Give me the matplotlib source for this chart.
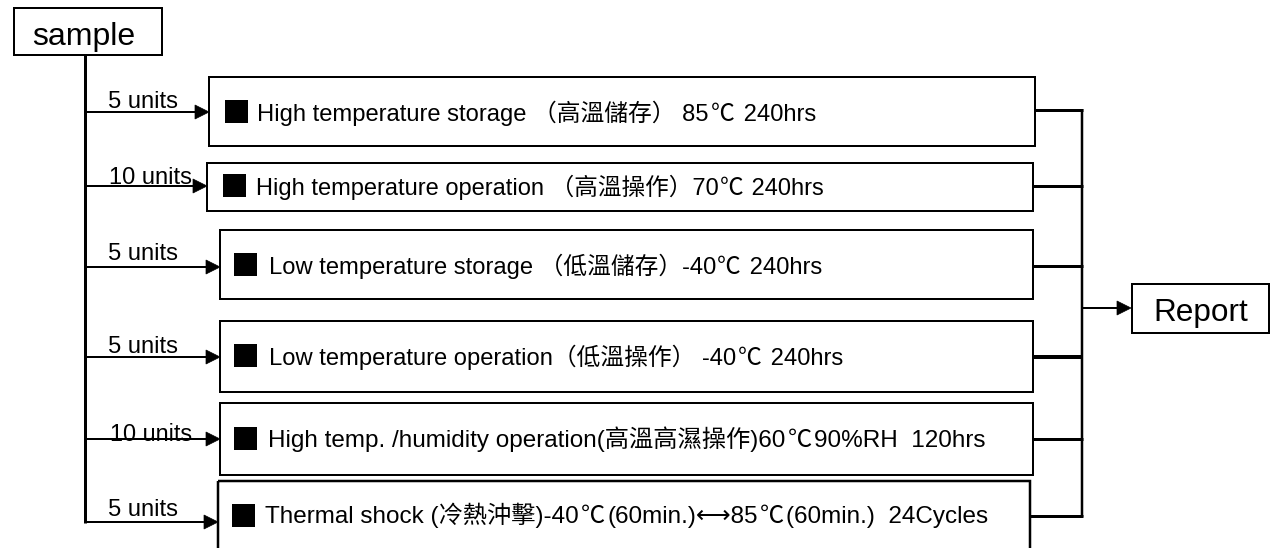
import re
import matplotlib
matplotlib.use("Agg")
import matplotlib.pyplot as plt
from matplotlib.patches import Rectangle, Polygon

# ---- content ----
sample_label = "sample"
report_label = "Report"
unit_labels = ["5 units", "10 units", "5 units", "5 units", "10 units", "5 units"]
test_labels = [
    "High temperature storage （高溫儲存） 85℃ 240hrs",
    "High temperature operation （高溫操作）70℃ 240hrs",
    "Low temperature storage （低溫儲存）-40℃ 240hrs",
    "Low temperature operation（低溫操作） -40℃ 240hrs",
    "High temp. /humidity operation(高溫高濕操作)60℃90%RH  120hrs",
    "Thermal shock (冷熱沖擊)-40℃(60min.)⟷85℃(60min.)  24Cycles",
]

# ---- layout (pixels) ----
# box: left, top, right, bottom
boxes = [
    (209, 77, 1035, 146),
    (207, 163, 1033, 211),
    (220, 230, 1033, 299),
    (220, 321, 1033, 392),
    (220, 403, 1033, 475),
    (218, 481, 1030, 560),
]
branch_y = [112, 186, 267, 357, 439, 522]
right_y = [110, 186, 266, 357, 439, 516]
squares = [(225, 100), (223, 174), (234, 253), (234, 344), (234, 427), (232, 504)]
text_x = [257, 256, 269, 269, 268, 265]
text_end = [816, 824, 822, 843, 986, 988]
text_base = [121, 195, 274, 365, 447, 523]
label_x = [108, 109, 108, 108, 110, 108]
label_w = [70, 83, 70, 70, 82, 70]
label_base = [108, 184, 260, 353, 441, 516]

FONT = ["Liberation Sans", "Noto Sans CJK TC", "DejaVu Sans"]
CJK = ["Noto Sans CJK TC", "DejaVu Sans"]
plt.rcParams["font.family"] = FONT

fig = plt.figure(figsize=(12.7, 5.48), dpi=100)
ax = fig.add_axes([0, 0, 1, 1])
ax.set_xlim(0, 1270)
ax.set_ylim(548, 0)
ax.axis("off")
renderer = fig.canvas.get_renderer()

PX = 0.72  # points per pixel


def fitted_text(x, y, s, width, ha="left"):
    t = ax.text(x, y, s, fontsize=20, ha=ha, va="baseline", color="black")
    w = t.get_window_extent(renderer).width
    t.set_fontsize(20 * width / w)
    return t


def seg_text(x, y, s, width):
    """Text where the degree-Celsius sign is drawn with the CJK font."""
    parts = [p for p in re.split("(℃)", s) if p]
    base = 20
    gap = 2.0
    texts = []
    for p in parts:
        fam = CJK if p == "℃" else FONT
        texts.append(ax.text(0, y, p, fontsize=base, family=fam, ha="left",
                             va="baseline", color="black"))
    widths = [t.get_window_extent(renderer).width for t in texts]
    ngaps = len(parts) - 1
    scale = (width - gap * ngaps) / sum(widths)
    cx = x
    for t, w in zip(texts, widths):
        t.set_fontsize(base * scale)
        t.set_x(cx)
        cx += w * scale + gap


def arrow(x0, x1, y, lw=2):
    L, H = 14, 7
    ax.plot([x0, x1 - L + 1], [y, y], color="black", lw=lw * PX, solid_capstyle="butt")
    ax.add_patch(Polygon([(x1, y), (x1 - L, y - H), (x1 - L, y + H)],
                         closed=True, facecolor="black", edgecolor="black", lw=0.5))


def box(l, t, r, b, lw=2):
    ax.add_patch(Rectangle((l, t), r - l, b - t, fill=False, edgecolor="black",
                           lw=lw * PX, joinstyle="miter"))


# sample box
box(14, 8, 162, 55)
fitted_text(84, 45, sample_label, 103, ha="center")

# trunk line
ax.plot([85, 85], [55, branch_y[-1] + 1], color="black", lw=3 * PX, solid_capstyle="butt")

for i in range(6):
    l, t, r, b = boxes[i]
    box(l, t, r, b, lw=2.5 if i == 5 else 2)
    arrow(85, l, branch_y[i])
    fitted_text(label_x[i], label_base[i], unit_labels[i], label_w[i])
    sx, sy = squares[i]
    ax.add_patch(Rectangle((sx, sy), 23, 23, facecolor="black", edgecolor="none"))
    seg_text(text_x[i], text_base[i], test_labels[i], text_end[i] - text_x[i])
    ax.plot([r, 1083], [right_y[i], right_y[i]], color="black",
            lw=(4 if i == 3 else 3) * PX, solid_capstyle="butt")

# collector line
ax.plot([1082, 1082], [right_y[0] - 1, right_y[-1] + 1], color="black", lw=2.5 * PX,
        solid_capstyle="butt")

# report
arrow(1082, 1131, 308)
box(1132, 284, 1269, 333)
fitted_text(1201, 321, report_label, 94, ha="center")

fig.savefig("out.png", dpi=100, facecolor="white")
